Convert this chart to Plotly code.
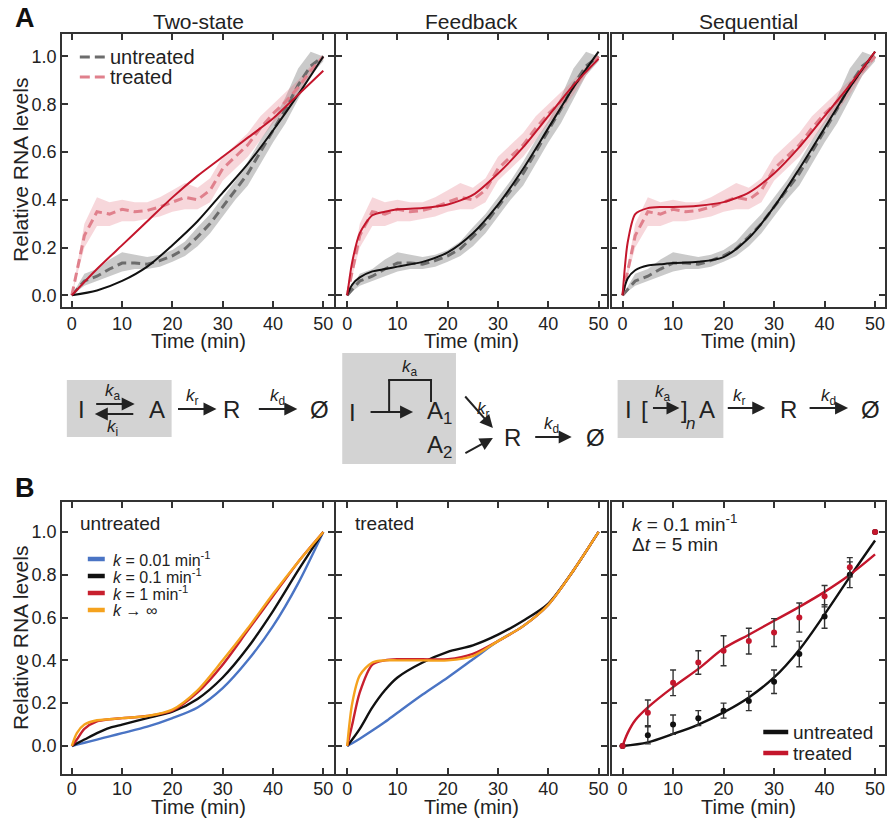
import plotly.graph_objects as go

W, H = 890, 819
FONT = "Liberation Sans, Arial, sans-serif"
INK = "#222222"
FRAME = "#333333"

# ---------------- data ----------------
t_exp = [0, 2.5, 5, 7.5, 10, 12.5, 15, 17.5, 20, 22.5, 25, 27.5, 30, 32.5, 35, 37.5, 40, 42.5, 45, 47.5, 50]
untr_mean = [0.0, 0.06, 0.08, 0.11, 0.135, 0.135, 0.13, 0.145, 0.165, 0.195, 0.245, 0.30, 0.37, 0.44, 0.51, 0.60, 0.69, 0.78, 0.88, 0.96, 1.0]
untr_hi = [0.0, 0.09, 0.11, 0.15, 0.18, 0.17, 0.16, 0.17, 0.19, 0.225, 0.285, 0.34, 0.41, 0.48, 0.56, 0.65, 0.73, 0.83, 0.95, 1.02, 1.0]
untr_lo = [0.0, 0.04, 0.06, 0.08, 0.10, 0.11, 0.11, 0.12, 0.14, 0.165, 0.205, 0.26, 0.33, 0.40, 0.46, 0.55, 0.64, 0.72, 0.82, 0.92, 0.98]
trt_mean = [0.0, 0.25, 0.35, 0.34, 0.36, 0.35, 0.355, 0.37, 0.39, 0.41, 0.40, 0.44, 0.53, 0.58, 0.63, 0.70, 0.76, 0.81, 0.87, 0.94, 1.0]
trt_hi = [0.0, 0.30, 0.41, 0.39, 0.40, 0.39, 0.39, 0.41, 0.44, 0.47, 0.45, 0.49, 0.58, 0.63, 0.68, 0.75, 0.80, 0.85, 0.90, 0.96, 1.0]
trt_lo = [0.0, 0.20, 0.29, 0.29, 0.31, 0.31, 0.32, 0.33, 0.35, 0.36, 0.36, 0.39, 0.48, 0.53, 0.58, 0.65, 0.72, 0.77, 0.84, 0.92, 0.99]

two_t = [0, 5, 10, 15, 20, 25, 30, 35, 40, 45, 50]
two_untr = [0, 0.02, 0.06, 0.12, 0.21, 0.31, 0.43, 0.55, 0.69, 0.84, 1.0]
two_trt = [0, 0.11, 0.21, 0.31, 0.41, 0.50, 0.58, 0.66, 0.74, 0.84, 0.94]

mt = [0, 1, 2.5, 5, 7.5, 10, 15, 20, 25, 30, 35, 40, 45, 50]
fb_untr = [0, 0.045, 0.075, 0.10, 0.11, 0.12, 0.14, 0.18, 0.26, 0.38, 0.53, 0.70, 0.87, 1.02]
fb_trt = [0, 0.14, 0.26, 0.335, 0.35, 0.36, 0.365, 0.38, 0.42, 0.51, 0.62, 0.75, 0.88, 0.99]
seq_untr = [0, 0.07, 0.105, 0.125, 0.13, 0.135, 0.14, 0.16, 0.24, 0.37, 0.53, 0.70, 0.87, 1.02]
seq_trt = [0, 0.22, 0.34, 0.365, 0.37, 0.37, 0.375, 0.39, 0.43, 0.51, 0.62, 0.75, 0.88, 1.02]

k_labels = ["<i>k</i> = 0.01 min<sup>-1</sup>", "<i>k</i> = 0.1 min<sup>-1</sup>",
            "<i>k</i> = 1 min<sup>-1</sup>", "<i>k</i> \u2192 \u221e"]
b1_curves = [
    [0, 0.006, 0.015, 0.03, 0.045, 0.06, 0.09, 0.13, 0.18, 0.27, 0.40, 0.56, 0.76, 1.0],
    [0, 0.012, 0.03, 0.06, 0.085, 0.10, 0.13, 0.16, 0.22, 0.32, 0.46, 0.63, 0.82, 1.0],
    [0, 0.03, 0.08, 0.115, 0.125, 0.13, 0.14, 0.165, 0.25, 0.38, 0.54, 0.70, 0.86, 1.0],
    [0, 0.06, 0.10, 0.12, 0.125, 0.13, 0.14, 0.17, 0.26, 0.40, 0.55, 0.71, 0.86, 1.0],
]
b2_curves = [
    [0, 0.013, 0.034, 0.072, 0.112, 0.155, 0.24, 0.32, 0.405, 0.49, 0.56, 0.66, 0.82, 1.0],
    [0, 0.03, 0.08, 0.18, 0.26, 0.32, 0.39, 0.44, 0.47, 0.52, 0.585, 0.665, 0.82, 1.0],
    [0, 0.10, 0.25, 0.38, 0.40, 0.405, 0.405, 0.405, 0.43, 0.49, 0.56, 0.66, 0.82, 1.0],
    [0, 0.20, 0.33, 0.39, 0.40, 0.40, 0.40, 0.40, 0.42, 0.49, 0.56, 0.66, 0.82, 1.0],
]
k_colors = ["#4a74c4", "#111111", "#c8202e", "#f5a21e"]

b3_t = [0, 5, 10, 15, 20, 25, 30, 35, 40, 45, 50]
b3_untr_pts = [0, 0.05, 0.10, 0.13, 0.165, 0.21, 0.30, 0.43, 0.605, 0.80, 1.0]
b3_untr_err = [0, 0.04, 0.045, 0.035, 0.035, 0.045, 0.055, 0.06, 0.055, 0.06, 0]
b3_trt_pts = [0, 0.155, 0.295, 0.39, 0.445, 0.49, 0.53, 0.60, 0.70, 0.835, 1.0]
b3_trt_err = [0, 0.06, 0.06, 0.055, 0.07, 0.06, 0.065, 0.068, 0.05, 0.045, 0]
b3_untr_fit = [0, 0.017, 0.056, 0.10, 0.157, 0.227, 0.32, 0.45, 0.615, 0.79, 0.96]
b3_trt_fit_t = [0, 1, 2.5, 5, 10, 15, 20, 25, 30, 35, 40, 45, 50]
b3_trt_fit = [0, 0.06, 0.12, 0.18, 0.275, 0.36, 0.455, 0.52, 0.585, 0.65, 0.72, 0.80, 0.895]

panel_titles = ["Two-state", "Feedback", "Sequential"]
x_ticks = [0, 10, 20, 30, 40, 50]
y_ticks = [0.0, 0.2, 0.4, 0.6, 0.8, 1.0]

RED = "#c4162c"
BLACK = "#111111"
GRAY_D = "#6c6c6c"
PINK_D = "#e0808c"

# ---------------- helpers ----------------
def px(x):
    return x / W

def py(y):
    return 1 - y / H

annotations = []
shapes = []

def text(x, y, s, size=20, anchor="center", color=INK, angle=0, bold=False):
    if bold:
        s = "<b>" + s + "</b>"
    annotations.append(dict(x=px(x), y=py(y), xref="paper", yref="paper", text=s,
                            showarrow=False, xanchor=anchor, yanchor="middle",
                            textangle=angle,
                            font=dict(size=size, family=FONT, color=color)))

def arrow(x0, y0, x1, y1, w=2):
    annotations.append(dict(x=px(x1), y=py(y1), xref="paper", yref="paper",
                            ax=x0 - x1, ay=y0 - y1, axref="pixel", ayref="pixel",
                            text="", showarrow=True, arrowhead=2, arrowsize=1.3,
                            arrowwidth=w, arrowcolor=INK, standoff=0, startstandoff=0))

def seg(x0, y0, x1, y1, color=INK, width=2, dash=None):
    ln = dict(color=color, width=width)
    if dash:
        ln["dash"] = dash
    shapes.append(dict(type="line", xref="paper", yref="paper",
                       x0=px(x0), y0=py(y0), x1=px(x1), y1=py(y1), line=ln))

def box(x0, y0, x1, y1):
    shapes.append(dict(type="rect", xref="paper", yref="paper", layer="below",
                       x0=px(x0), y0=py(y0), x1=px(x1), y1=py(y1),
                       fillcolor="#d3d3d3", line=dict(width=0)))

# ---------------- figure ----------------
fig = go.Figure()

cols_px = [(62, 335), (337, 608), (613, 887)]
xranges = [[-1.98, 52.18], [-2.18, 51.6], [-2.17, 51.97]]
rows_px = [(34, 307), (502, 774)]
yranges = [[-0.049, 1.094], [-0.131, 1.140]]

layout_axes = {}
for r in range(2):
    for c in range(3):
        i = r * 3 + c + 1
        sx = "" if i == 1 else str(i)
        ax_common = dict(showline=True, linewidth=1.6, linecolor=FRAME, mirror="ticks",
                         ticks="inside", ticklen=6, tickwidth=1.5, tickcolor=FRAME,
                         showgrid=False, zeroline=False,
                         tickfont=dict(size=18, family=FONT, color=INK))
        layout_axes["xaxis" + sx] = dict(ax_common, domain=[px(cols_px[c][0]), px(cols_px[c][1])],
                                         range=xranges[c], tickvals=x_ticks,
                                         ticklabelstandoff=(-2 if r == 1 else 0),
                                         anchor="y" + sx)
        layout_axes["yaxis" + sx] = dict(ax_common, domain=[py(rows_px[r][1]), py(rows_px[r][0])],
                                         range=yranges[r], tickvals=y_ticks, tickformat=".1f",
                                         showticklabels=(c == 0), anchor="x" + sx)

def ax_ids(i):
    s = "" if i == 1 else str(i)
    return "x" + s, "y" + s

# Row A
models_A = [(two_t, two_untr, two_trt), (mt, fb_untr, fb_trt), (mt, seq_untr, seq_trt)]
for c in range(3):
    xa, ya = ax_ids(c + 1)
    fig.add_trace(go.Scatter(x=t_exp + t_exp[::-1], y=untr_hi + untr_lo[::-1], fill="toself",
                             fillcolor="rgba(128,128,128,0.42)", line=dict(width=0),
                             mode="lines", hoverinfo="skip", showlegend=False, xaxis=xa, yaxis=ya))
    fig.add_trace(go.Scatter(x=t_exp + t_exp[::-1], y=trt_hi + trt_lo[::-1], fill="toself",
                             fillcolor="rgba(225,110,125,0.28)", line=dict(width=0),
                             mode="lines", hoverinfo="skip", showlegend=False, xaxis=xa, yaxis=ya))
    fig.add_trace(go.Scatter(x=t_exp, y=untr_mean, mode="lines", name="untreated",
                             line=dict(color=GRAY_D, width=3, dash="9px,5px"),
                             showlegend=False, xaxis=xa, yaxis=ya))
    fig.add_trace(go.Scatter(x=t_exp, y=trt_mean, mode="lines", name="treated",
                             line=dict(color=PINK_D, width=3, dash="9px,5px"),
                             showlegend=False, xaxis=xa, yaxis=ya))
    tt, mu, mtr = models_A[c]
    fig.add_trace(go.Scatter(x=tt, y=mu, mode="lines", line=dict(color=BLACK, width=2, shape="spline", smoothing=0.8),
                             showlegend=False, xaxis=xa, yaxis=ya))
    fig.add_trace(go.Scatter(x=tt, y=mtr, mode="lines", line=dict(color=RED, width=2, shape="spline", smoothing=0.7),
                             showlegend=False, xaxis=xa, yaxis=ya))

# Row B, panels 1 and 2
for c, curves in enumerate([b1_curves, b2_curves]):
    xa, ya = ax_ids(4 + c)
    for k in [0, 1, 2, 3]:
        fig.add_trace(go.Scatter(x=mt, y=curves[k], mode="lines", name=k_labels[k],
                                 line=dict(color=k_colors[k], width=2.4, shape="spline", smoothing=0.8),
                                 showlegend=False, xaxis=xa, yaxis=ya))

# Row B, panel 3
xa, ya = ax_ids(6)
fig.add_trace(go.Scatter(x=b3_t, y=b3_untr_fit, mode="lines", line=dict(color=BLACK, width=2.4, shape="spline"),
                         showlegend=False, xaxis=xa, yaxis=ya))
fig.add_trace(go.Scatter(x=b3_trt_fit_t, y=b3_trt_fit, mode="lines", line=dict(color=RED, width=2.4, shape="spline"),
                         showlegend=False, xaxis=xa, yaxis=ya))
fig.add_trace(go.Scatter(x=b3_t, y=b3_untr_pts, mode="markers", marker=dict(color=BLACK, size=6),
                         error_y=dict(type="data", array=b3_untr_err, color="#333333", thickness=1.4, width=3),
                         showlegend=False, xaxis=xa, yaxis=ya))
fig.add_trace(go.Scatter(x=b3_t, y=b3_trt_pts, mode="markers", marker=dict(color=RED, size=6),
                         error_y=dict(type="data", array=b3_trt_err, color="#333333", thickness=1.4, width=3),
                         showlegend=False, xaxis=xa, yaxis=ya))

# ---------------- text: letters, titles, axis titles ----------------
text(25, 18, "A", size=27, bold=True, color="#111111")
text(25, 488, "B", size=27, bold=True, color="#111111")
for c in range(3):
    cx = (cols_px[c][0] + cols_px[c][1]) / 2
    text(cx, 21, panel_titles[c], size=21)
    text(cx, 341, "Time (min)", size=20)
    text(cx, 807, "Time (min)", size=20)
text(20, 170, "Relative RNA levels", size=21, angle=-90)
text(20, 638, "Relative RNA levels", size=21, angle=-90)

# Legend A1
seg(80, 57, 105, 57, color=GRAY_D, width=3, dash="10px,5px")
seg(80, 77, 105, 77, color=PINK_D, width=3, dash="10px,5px")
text(108, 57, "untreated", size=20, anchor="left")
text(108, 77, "treated", size=20, anchor="left")

# Legend B1
text(78, 523, "untreated", size=19, anchor="left")
for k in range(4):
    yy = 559 + 17 * k
    seg(88, yy, 105, yy, color=k_colors[k], width=4.5)
    text(111, yy, k_labels[k], size=16, anchor="left")
# B2
text(354, 523, "treated", size=19, anchor="left")
# B3
text(631, 523, "<i>k</i> = 0.1 min<sup>-1</sup>", size=19, anchor="left")
text(631, 544, "\u0394<i>t</i> = 5 min", size=19, anchor="left")
seg(765, 732, 790, 732, color=BLACK, width=4.5)
seg(765, 753, 790, 753, color=RED, width=4.5)
text(793, 732, "untreated", size=19, anchor="left")
text(793, 753, "treated", size=19, anchor="left")

# ---------------- schematic ----------------
SZ = 24
KS = 17
# two-state
box(67, 380, 172, 437)
text(82, 409, "I", size=SZ)
arrow(95, 404, 135, 404)
arrow(135, 414, 95, 414)
text(113, 392, "<i>k</i><sub>a</sub>", size=KS)
text(113, 428, "<i>k</i><sub>i</sub>", size=KS)
text(157, 409, "A", size=SZ)
arrow(177, 409, 217, 409)
text(193, 397, "<i>k</i><sub>r</sub>", size=KS)
text(232, 409, "R", size=SZ)
arrow(258, 409, 298, 409)
text(278, 397, "<i>k</i><sub>d</sub>", size=KS)
text(320, 409, "\u00d8", size=SZ)

# feedback
box(343, 353, 457, 464)
text(353, 412, "I", size=SZ)
arrow(370, 412, 414, 412)
seg(390, 412, 390, 380)
seg(389, 380, 433, 380)
seg(432, 379, 432, 402)
text(411, 368, "<i>k</i><sub>a</sub>", size=KS)
text(440, 412, "A<sub>1</sub>", size=SZ)
text(440, 447, "A<sub>2</sub>", size=SZ)
arrow(465, 395, 494, 428)
arrow(465, 454, 494, 438)
text(485, 410, "<i>k</i><sub>r</sub>", size=KS)
text(514, 437, "R", size=SZ)
arrow(535, 437, 573, 437)
text(553, 425, "<i>k</i><sub>d</sub>", size=KS)
text(597, 437, "\u00d8", size=SZ)

# sequential
box(619, 380, 725, 438)
text(630, 409, "I", size=SZ)
text(646, 409, "[", size=SZ)
arrow(653, 408, 681, 408)
text(664, 393, "<i>k</i><sub>a</sub>", size=KS)
text(686, 409, "]", size=SZ)
text(692, 423, "<i>n</i>", size=KS)
text(709, 409, "A", size=SZ)
arrow(728, 408, 767, 408)
text(741, 397, "<i>k</i><sub>r</sub>", size=KS)
text(790, 409, "R", size=SZ)
arrow(810, 408, 850, 408)
text(830, 397, "<i>k</i><sub>d</sub>", size=KS)
text(872, 409, "\u00d8", size=SZ)

fig.update_layout(width=W, height=H, autosize=False,
                  margin=dict(l=0, r=0, t=0, b=0),
                  paper_bgcolor="white", plot_bgcolor="white",
                  showlegend=False, annotations=annotations, shapes=shapes,
                  font=dict(family=FONT, color=INK),
                  **layout_axes)

fig.write_html("out.html", config={"displayModeBar": False},
               post_script="document.body.style.margin='0px';document.body.style.overflow='hidden';")
